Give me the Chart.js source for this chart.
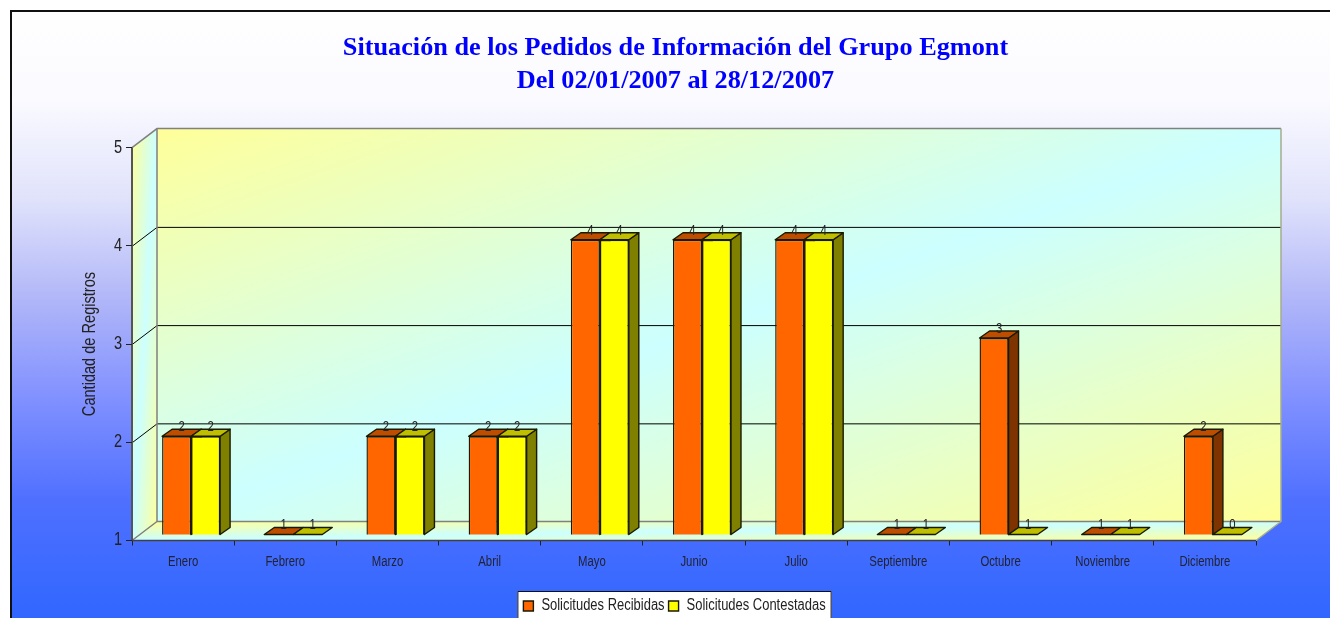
<!DOCTYPE html>
<html><head><meta charset="utf-8">
<style>html,body{margin:0;padding:0;background:#fff;overflow:hidden}#w{width:1330px;height:618px;position:relative}</style>
<script src="https://cdn.jsdelivr.net/npm/chart.js@4"></script>
</head><body><div id="w"><canvas id="c" width="1330" height="618"></canvas></div>
<script>
const categories = ['Enero','Febrero','Marzo','Abril','Mayo','Junio','Julio','Septiembre','Octubre','Noviembre','Diciembre'];
const recibidas = [2,1,2,2,4,4,4,1,3,1,2];
const contestadas = [2,1,2,2,4,4,4,1,1,1,0];
const titleLines = ['Situación de los Pedidos de Información del Grupo Egmont','Del 02/01/2007 al 28/12/2007'];
const yTicks = [1,2,3,4,5];
const SANS = '"Liberation Sans",sans-serif';
const SERIF = '"Liberation Serif",serif';
const NARROW_K = 0.81, TITLE_K = 1.01;
const WALL = {dx:25, dy:-19}, BAR = {dx:8, dy:-6}, DEPTH = {dx:10, dy:-7};
const shades = [{top:'#bf4d00',side:'#7f3300'},{top:'#bfbf00',side:'#7f7f00'}];

const canvas = document.getElementById('c');
const rawCtx = canvas.getContext('2d');
// Horizontal text condensing, so Liberation Sans reads like the reference's narrow face.
const kFor = c => c.font.includes('Serif') ? TITLE_K : NARROW_K;
const origFill = rawCtx.fillText.bind(rawCtx), origMeasure = rawCtx.measureText.bind(rawCtx);
rawCtx.fillText = function(t,x,y){
  const k=kFor(rawCtx);
  rawCtx.save(); rawCtx.translate(x,y); rawCtx.scale(k,1); origFill(t,0,0); rawCtx.restore();
};
rawCtx.measureText = function(t){ return {width: origMeasure(t).width*kFor(rawCtx)}; };

function poly(ctx, pts, fill, stroke, lw){
  ctx.beginPath(); pts.forEach((p,i)=> i?ctx.lineTo(p[0],p[1]):ctx.moveTo(p[0],p[1])); ctx.closePath();
  if(fill){ctx.fillStyle=fill;ctx.fill();}
  if(stroke){ctx.strokeStyle=stroke;ctx.lineWidth=lw||1;ctx.stroke();}
}
// Fills a polygon with a gradient running corner to corner of the stretched box x0..x1, y0..y1.
function stretchedFill(ctx,pts,x0,y0,x1,y1){
  ctx.save();
  ctx.beginPath(); pts.forEach((p,i)=> i?ctx.lineTo(p[0],p[1]):ctx.moveTo(p[0],p[1])); ctx.closePath();
  ctx.clip();
  ctx.transform(x1-x0,0,0,y1-y0,x0,y0);
  const g=ctx.createLinearGradient(0,0,1,1);
  g.addColorStop(0,'#ffff99');g.addColorStop(.5,'#ccffff');g.addColorStop(1,'#ffff99');
  ctx.fillStyle=g; ctx.fillRect(0,0,1,1);
  ctx.restore();
}
function barGeom(chart,meta,i){
  const el=meta.data[i], a=chart.chartArea;
  const b=Math.min(el.base,a.bottom), y=Math.min(el.y,a.bottom);
  return {l:el.x-el.width/2+BAR.dx, r:el.x+el.width/2+BAR.dx, t:y+BAR.dy, b:b+BAR.dy};
}
const scene = {
  id:'scene',
  afterLayout(chart){
    const lg=chart.legend;
    const d=674.5-(lg.left+lg.right)/2;
    lg.left+=d; lg.right+=d;
    const dy=594-lg.top; lg.top+=dy; lg.bottom+=dy;
    lg.legendHitBoxes.forEach(h=>{h.left+=d;h.top+=dy;});
    const t=chart.titleBlock, td=675.5-(t.left+t.right)/2;
    t.left+=td; t.right+=td;
  },
  beforeDraw(chart){
    const {ctx,chartArea:a,scales:{y}}=chart;
    ctx.save();
    ctx.fillStyle='#fff'; ctx.fillRect(0,0,1330,618);
    const g=ctx.createLinearGradient(0,0,0,618);
    [[11,'#ffffff'],[100,'#fafaff'],[200,'#e0e2fb'],[300,'#b0b6f8'],[400,'#8090ff'],[500,'#4f70ff'],[600,'#3568ff'],[618,'#3366ff']]
      .forEach(s=>g.addColorStop(s[0]/618,s[1]));
    ctx.fillStyle=g; ctx.fillRect(11,11,1319,607);
    ctx.strokeStyle='#111'; ctx.lineWidth=2;
    ctx.beginPath(); ctx.moveTo(11,618); ctx.lineTo(11,11); ctx.lineTo(1330,11); ctx.stroke();
    const L=a.left,R=a.right,T=a.top,B=a.bottom,dx=WALL.dx,dy=WALL.dy;
    stretchedFill(ctx,[[L+dx,T+dy],[R+dx,T+dy],[R+dx,B+dy],[L+dx,B+dy]],L+dx,T+dy,R+dx,B+dy);
    stretchedFill(ctx,[[L,T],[L+dx,T+dy],[L+dx,B+dy],[L,B]],L,T+dy,L+dx,B);
    stretchedFill(ctx,[[L,B],[L+dx,B+dy],[R+dx,B+dy],[R,B]],L,B+dy,R+dx,B);
    // grid lines
    ctx.strokeStyle='#000';ctx.lineWidth=1;
    yTicks.slice(1,-1).forEach(v=>{
      const p=y.getPixelForValue(v)+.6;
      ctx.beginPath();ctx.moveTo(L,p);ctx.lineTo(L+dx,p+dy);ctx.lineTo(R+dx,p+dy);ctx.stroke();
    });
    // wall outlines
    ctx.strokeStyle='#808080';ctx.lineWidth=1.5;
    ctx.beginPath();
    ctx.moveTo(L,T);ctx.lineTo(L+dx,T+dy);ctx.lineTo(R+dx,T+dy);
    ctx.moveTo(L+dx,T+dy);ctx.lineTo(L+dx,B+dy);ctx.lineTo(R+dx,B+dy);
    ctx.moveTo(L,B);ctx.lineTo(L+dx,B+dy);
    ctx.stroke();
    ctx.strokeStyle='#a4ad90';
    ctx.beginPath();ctx.moveTo(R+dx,T+dy);ctx.lineTo(R+dx,B+dy);ctx.lineTo(R,B);ctx.stroke();
    ctx.strokeStyle='#555';ctx.lineWidth=2;
    ctx.beginPath();ctx.moveTo(L,T);ctx.lineTo(L,B);ctx.stroke();
    ctx.strokeStyle='#404040';ctx.lineWidth=1.5;
    ctx.beginPath();ctx.moveTo(L,B);ctx.lineTo(R,B);ctx.stroke();
    // legend panel
    const lg=chart.legend,h=lg.legendHitBoxes,x0=h[0].left-6,x1=h[h.length-1].left+h[h.length-1].width+6;
    ctx.fillStyle='#fff';ctx.fillRect(x0,591,x1-x0,40);
    ctx.strokeStyle='#111';ctx.lineWidth=1;ctx.strokeRect(x0+.5,591.5,x1-x0-1,60);
    ctx.restore();
  },
  beforeDatasetsDraw(chart){
    const ctx=chart.ctx;
    ctx.save();
    ctx.lineJoin='round';
    categories.forEach((_,i)=>{
      [0,1].forEach(ds=>{
        const g=barGeom(chart,chart.getDatasetMeta(ds),i),s=shades[ds],x=DEPTH.dx,y=DEPTH.dy,col='#1a1a00';
        if(g.b-g.t>0.5) poly(ctx,[[g.r,g.t],[g.r+x,g.t+y],[g.r+x,g.b+y],[g.r,g.b]],s.side,col,1.4);
        poly(ctx,[[g.l,g.t],[g.l+x,g.t+y],[g.r+x,g.t+y],[g.r,g.t]],s.top,col,1.4);
      });
    });
    ctx.restore();
  },
  beforeDatasetDraw(chart){chart.ctx.save();chart.ctx.translate(BAR.dx,BAR.dy);},
  afterDatasetDraw(chart){chart.ctx.restore();},
  afterDatasetsDraw(chart){
    const ctx=chart.ctx;
    ctx.save();
    ctx.font='14px '+SANS;ctx.fillStyle='#222';ctx.textAlign='center';ctx.textBaseline='middle';
    [recibidas,contestadas].forEach((vals,ds)=>{
      vals.forEach((v,i)=>{
        const g=barGeom(chart,chart.getDatasetMeta(ds),i);
        ctx.fillText(String(v),(g.l+g.r)/2+5,g.t-9);
      });
    });
    ctx.restore();
  }
};
new Chart(canvas,{
  type:'bar',
  data:{labels:categories,datasets:[
    {label:'Solicitudes Recibidas',data:recibidas,backgroundColor:'#ff6600',borderColor:'#1a1a00',borderWidth:1.4,borderSkipped:false,categoryPercentage:.5675,barPercentage:1},
    {label:'Solicitudes Contestadas',data:contestadas,backgroundColor:'#ffff00',borderColor:'#1a1a00',borderWidth:1.4,borderSkipped:false,categoryPercentage:.5675,barPercentage:1}
  ]},
  plugins:[scene],
  options:{
    responsive:false,animation:false,
    layout:{padding:{left:0,right:74,top:32,bottom:0}},
    plugins:{
      tooltip:{enabled:false},
      title:{display:true,text:titleLines,color:'#0000ff',font:{family:SERIF,size:26,weight:'bold',lineHeight:1.27},padding:{top:0,bottom:49.5},align:'center'},
      legend:{position:'bottom',labels:{font:{family:SANS,size:16},color:'#222',boxWidth:10,boxHeight:10,padding:4}}
    },
    scales:{
      x:{grid:{drawOnChartArea:false,drawTicks:true,tickLength:5,color:'#222',offset:true},border:{display:false},
         ticks:{font:{family:SANS,size:14},color:'#223',padding:8,maxRotation:0,autoSkip:false},
         afterFit(s){s.height=47.5;}},
      y:{min:1,max:5,grid:{drawOnChartArea:false,drawTicks:true,tickLength:6,color:'#222'},border:{display:false},
         ticks:{stepSize:1,font:{family:SANS,size:18},color:'#222',padding:4},
         title:{display:true,text:'Cantidad de Registros',font:{family:SANS,size:18},color:'#222',padding:{top:79,bottom:0}},
         afterFit(s){s.width=132;}}
    }
  }
});
</script></body></html>
